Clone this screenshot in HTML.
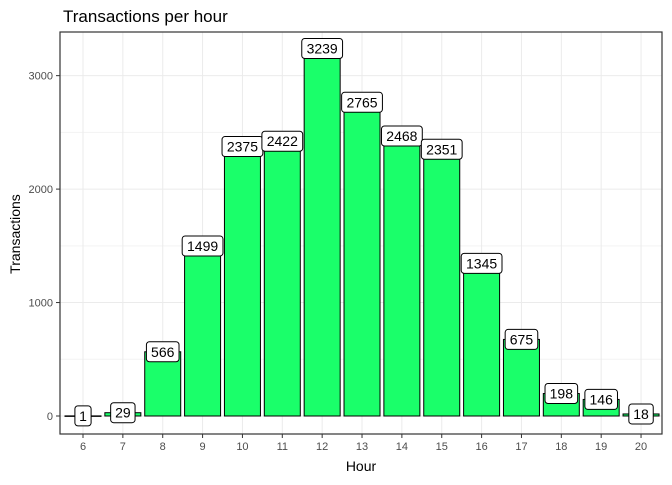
<!DOCTYPE html>
<html><head><meta charset="utf-8"><style>
body{margin:0;background:#fff;font-family:"Liberation Sans",sans-serif}
</style></head><body>
<svg id="chart" width="672" height="480" xmlns="http://www.w3.org/2000/svg">
<text x="63" y="22" font-size="17" fill="#000">Transactions per hour</text>
<text x="361" y="471" font-size="14" text-anchor="middle">Hour</text>
<text transform="translate(20,234) rotate(-90)" font-size="14" text-anchor="middle">Transactions</text>
<g id="grid"></g><g id="bars"></g><g id="labels"></g><g id="axes"></g>
<rect x="60" y="32" width="602" height="402" fill="none" stroke="#333" stroke-width="1.2"/>
</svg>
<script>
const hours=[6,7,8,9,10,11,12,13,14,15,16,17,18,19,20];
const counts=[1,29,566,1499,2375,2422,3239,2765,2468,2351,1345,675,198,146,18];
const yTicks=[0,1000,2000,3000];
const ns="http://www.w3.org/2000/svg";
const x0=83,step=39.86,bw=36;
const xs=h=>x0+(h-6)*step;
const ys=v=>416-v*0.11345;
function mk(t,a,p){const e=document.createElementNS(ns,t);for(const k in a)e.setAttribute(k,a[k]);p.appendChild(e);return e;}
const grid=document.getElementById('grid'),bars=document.getElementById('bars'),labels=document.getElementById('labels'),axes=document.getElementById('axes');
yTicks.forEach(v=>{const l=mk('line',{x1:60,x2:662,y1:ys(v),y2:ys(v),stroke:'#ebebeb','stroke-width':1},grid);


const t=mk('text',{x:53,y:ys(v)+4,'font-size':11,fill:'#4d4d4d','text-anchor':'end'},axes);t.textContent=v;


mk('line',{x1:56,x2:60,y1:ys(v),y2:ys(v),stroke:'#333'},axes);});
[500,1500,2500].forEach(v=>mk('line',{x1:60,x2:662,y1:ys(v),y2:ys(v),stroke:'#f3f3f3'},grid));
hours.forEach((h,i)=>{const x=xs(h);
mk('line',{x1:x,x2:x,y1:32,y2:434,stroke:'#ebebeb'},grid);
const v=counts[i],top=ys(v);
const r=mk('rect',{x:x-bw/2,y:top,width:bw,height:Math.max(416-top,0.5),fill:'#1aff6a',stroke:'#000','stroke-width':1},bars);


const s=String(v),w=s.length*8.2+8;
const lb=mk('rect',{x:x-w/2,y:top-10,width:w,height:20,rx:3,fill:'#fff',stroke:'#000','stroke-width':1},labels);


const t=mk('text',{x:x,y:top+5,'font-size':14,'text-anchor':'middle'},labels);t.textContent=s;


mk('line',{x1:x,x2:x,y1:434,y2:438,stroke:'#333'},axes);
const xt=mk('text',{x:x,y:450,'font-size':11,fill:'#4d4d4d','text-anchor':'middle'},axes);xt.textContent=h;


});
</script>
</body></html>
